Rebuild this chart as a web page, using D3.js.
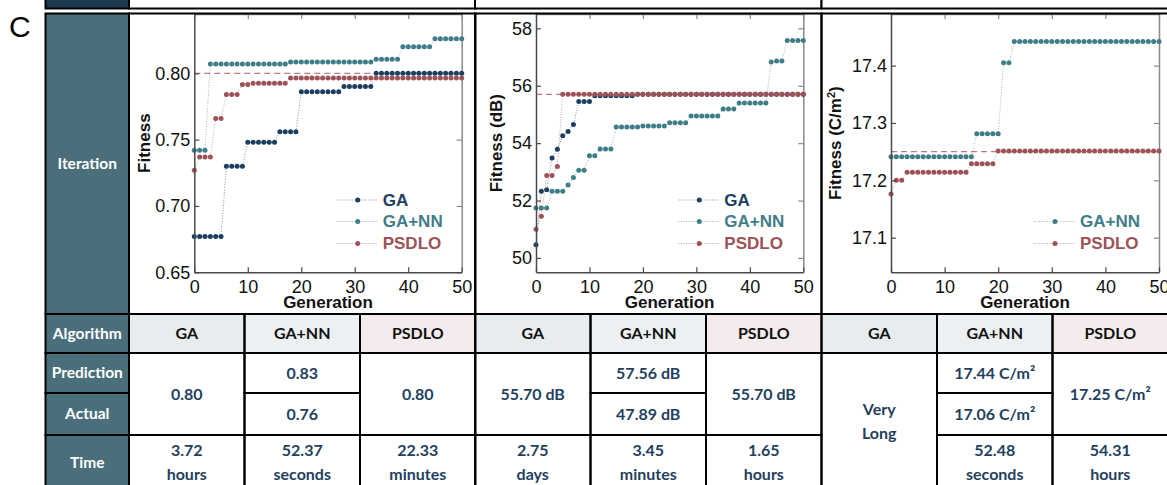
<!DOCTYPE html>
<html>
<head>
<meta charset="utf-8">
<script src="https://cdn.jsdelivr.net/npm/d3@7"></script>
<style>
  html, body { margin: 0; padding: 0; background: #fff; }
  svg { display: block; }
</style>
</head>
<body>
<svg id="chart" width="1167" height="485"></svg>
<script>
// ---- Data ----
// Panel 1: fitness, generations 0..50
const gaFit1 = [0.677, 0.677, 0.677, 0.677, 0.677, 0.677, 0.730, 0.730, 0.730, 0.730,
  0.748, 0.748, 0.748, 0.748, 0.748, 0.748, 0.756, 0.756, 0.756, 0.756,
  0.786, 0.786, 0.786, 0.786, 0.786, 0.786, 0.786, 0.786, 0.790, 0.790,
  0.790, 0.790, 0.790, 0.790, 0.800, 0.800, 0.800, 0.800, 0.800, 0.800,
  0.800, 0.800, 0.800, 0.800, 0.800, 0.800, 0.800, 0.800, 0.800, 0.800, 0.800];
const gannFit1 = [0.742, 0.742, 0.742, 0.807, 0.807, 0.807, 0.807, 0.807, 0.807, 0.807,
  0.807, 0.807, 0.807, 0.807, 0.807, 0.807, 0.807, 0.807, 0.8085, 0.8085,
  0.8085, 0.8085, 0.8085, 0.8085, 0.8085, 0.8085, 0.8085, 0.8085, 0.8085, 0.8085,
  0.8085, 0.8085, 0.8085, 0.8085, 0.8105, 0.8105, 0.8105, 0.8105, 0.8105, 0.820,
  0.820, 0.820, 0.820, 0.820, 0.820, 0.826, 0.826, 0.826, 0.826, 0.826, 0.826];
const psdloFit1 = [0.727, 0.737, 0.737, 0.737, 0.766, 0.766, 0.784, 0.784, 0.784, 0.7915,
  0.7915, 0.7925, 0.7925, 0.7925, 0.7925, 0.7925, 0.7925, 0.7925, 0.7965, 0.7965,
  0.7965, 0.7965, 0.7965, 0.7965, 0.7965, 0.7965, 0.7965, 0.7965, 0.7965, 0.7965,
  0.7965, 0.7965, 0.7965, 0.7965, 0.7965, 0.7965, 0.7965, 0.7965, 0.7965, 0.7965,
  0.7965, 0.7965, 0.7965, 0.7965, 0.7965, 0.7965, 0.7965, 0.7965, 0.7965, 0.7965, 0.7965];

// Panel 2: fitness (dB)
const gaFit2 = [50.46, 52.32, 52.38, 53.48, 53.79, 54.26, 54.41, 54.65, 55.45, 55.45,
  55.45, 55.65, 55.65, 55.65, 55.65, 55.65, 55.65, 55.65, 55.65, 55.70,
  55.70, 55.70, 55.70, 55.70, 55.70, 55.70, 55.70, 55.70, 55.70, 55.70,
  55.70, 55.70, 55.70, 55.70, 55.70, 55.70, 55.70, 55.70, 55.70, 55.70,
  55.70, 55.70, 55.70, 55.70, 55.70, 55.70, 55.70, 55.70, 55.70, 55.70, 55.70];
const gannFit2 = [51.74, 51.74, 51.74, 52.32, 52.32, 52.32, 52.54, 52.80, 53.06, 53.06,
  53.56, 53.56, 53.80, 53.80, 53.80, 54.56, 54.56, 54.56, 54.56, 54.56,
  54.60, 54.60, 54.60, 54.60, 54.60, 54.71, 54.71, 54.71, 54.71, 54.95,
  54.95, 54.95, 54.95, 54.95, 54.95, 55.19, 55.19, 55.19, 55.40, 55.40,
  55.40, 55.40, 55.40, 55.40, 56.83, 56.86, 56.86, 57.58, 57.58, 57.58, 57.58];
const psdloFit2 = [51.00, 51.45, 52.87, 52.87, 53.19, 55.70, 55.70, 55.70, 55.70, 55.70,
  55.70, 55.70, 55.70, 55.70, 55.70, 55.70, 55.70, 55.70, 55.70, 55.70,
  55.70, 55.70, 55.70, 55.70, 55.70, 55.70, 55.70, 55.70, 55.70, 55.70,
  55.70, 55.70, 55.70, 55.70, 55.70, 55.70, 55.70, 55.70, 55.70, 55.70,
  55.70, 55.70, 55.70, 55.70, 55.70, 55.70, 55.70, 55.70, 55.70, 55.70, 55.70];

// Panel 3: fitness (C/m2), GA not plotted
const gannFit3 = [17.241, 17.241, 17.241, 17.241, 17.241, 17.241, 17.241, 17.241, 17.241, 17.241,
  17.241, 17.241, 17.241, 17.241, 17.241, 17.241, 17.281, 17.281, 17.281, 17.281,
  17.281, 17.405, 17.405, 17.442, 17.442, 17.442, 17.442, 17.442, 17.442, 17.442,
  17.442, 17.442, 17.442, 17.442, 17.442, 17.442, 17.442, 17.442, 17.442, 17.442,
  17.442, 17.442, 17.442, 17.442, 17.442, 17.442, 17.442, 17.442, 17.442, 17.442, 17.442];
const psdloFit3 = [17.176, 17.200, 17.200, 17.214, 17.214, 17.214, 17.214, 17.214, 17.214, 17.214,
  17.214, 17.214, 17.214, 17.214, 17.214, 17.229, 17.229, 17.229, 17.229, 17.229,
  17.251, 17.251, 17.251, 17.251, 17.251, 17.251, 17.251, 17.251, 17.251, 17.251,
  17.251, 17.251, 17.251, 17.251, 17.251, 17.251, 17.251, 17.251, 17.251, 17.251,
  17.251, 17.251, 17.251, 17.251, 17.251, 17.251, 17.251, 17.251, 17.251, 17.251, 17.251];

const xTicks = [0, 10, 20, 30, 40, 50];
const yTicks1 = [0.65, 0.70, 0.75, 0.80];
const yTicks2 = [50, 52, 54, 56, 58];
const yTicks3 = [17.1, 17.2, 17.3, 17.4];
const refValues = [0.80, 55.70, 17.25];

const algorithms = ['GA', 'GA+NN', 'PSDLO'];
const rowLabels = ['Iteration', 'Algorithm', 'Prediction', 'Actual', 'Time'];

// table body cells per panel: col, first row, last row, lines of text
const cells1 = [
  { col: 0, r0: 2, r1: 3, text: ['0.80'] },
  { col: 1, r0: 2, r1: 2, text: ['0.83'] },
  { col: 1, r0: 3, r1: 3, text: ['0.76'] },
  { col: 2, r0: 2, r1: 3, text: ['0.80'] },
  { col: 0, r0: 4, r1: 4, text: ['3.72', 'hours'] },
  { col: 1, r0: 4, r1: 4, text: ['52.37', 'seconds'] },
  { col: 2, r0: 4, r1: 4, text: ['22.33', 'minutes'] }
];
const cells2 = [
  { col: 0, r0: 2, r1: 3, text: ['55.70 dB'] },
  { col: 1, r0: 2, r1: 2, text: ['57.56 dB'] },
  { col: 1, r0: 3, r1: 3, text: ['47.89 dB'] },
  { col: 2, r0: 2, r1: 3, text: ['55.70 dB'] },
  { col: 0, r0: 4, r1: 4, text: ['2.75', 'days'] },
  { col: 1, r0: 4, r1: 4, text: ['3.45', 'minutes'] },
  { col: 2, r0: 4, r1: 4, text: ['1.65', 'hours'] }
];
const cells3 = [
  { col: 0, r0: 2, r1: 4, text: ['Very', 'Long'] },
  { col: 1, r0: 2, r1: 2, text: ['17.44 C/m²'] },
  { col: 1, r0: 3, r1: 3, text: ['17.06 C/m²'] },
  { col: 2, r0: 2, r1: 3, text: ['17.25 C/m²'] },
  { col: 1, r0: 4, r1: 4, text: ['52.48', 'seconds'] },
  { col: 2, r0: 4, r1: 4, text: ['54.31', 'hours'] }
];

// ---- Style / layout ----
const colors = { GA: '#1c3f60', 'GA+NN': '#3f7d88', PSDLO: '#9c5257' };
const headerFill = { GA: '#e7ecef', 'GA+NN': '#ecf0f3', PSDLO: '#f4ecec' };
const sideFill = '#4a6f7b';
const valueColor = '#243f5e';
const chartFont = '"Liberation Sans", Arial, sans-serif';
const tableFont = 'Lato, "Open Sans", sans-serif';

const rowEdges = [13.5, 314, 353, 393, 435, 490];
const sideLeft = 45.5, sideRight = 129;
const panelLefts = [129, 475, 821.5];
const panelW = 346.5;
const plotTop = 14, plotBottom = 272.3;

const svg = d3.select('#chart');

// Top strip (remnant of the previous block)
svg.append('rect').attr('x', sideLeft).attr('y', -10).attr('width', sideRight - sideLeft).attr('height', 18.5)
  .attr('fill', '#1e3a52').attr('stroke', '#000').attr('stroke-width', 2);
panelLefts.forEach(px => {
  svg.append('rect').attr('x', px).attr('y', -10).attr('width', panelW).attr('height', 18.5)
    .attr('fill', '#fff').attr('stroke', '#000').attr('stroke-width', 2);
});

// Panel label
svg.append('text').attr('x', 9).attr('y', 36.5).text('C')
  .attr('font-family', chartFont).attr('font-size', 30).attr('fill', '#000');

const cellLayer = svg.append('g');
const plotLayer = svg.append('g');
const borderLayer = svg.append('g');
const textLayer = svg.append('g');

function addCell(x0, x1, y0, y1, fill) {
  cellLayer.append('rect').attr('x', x0).attr('y', y0).attr('width', x1 - x0).attr('height', y1 - y0).attr('fill', fill);
  borderLayer.append('rect').attr('x', x0).attr('y', y0).attr('width', x1 - x0).attr('height', y1 - y0)
    .attr('fill', 'none').attr('stroke', '#000').attr('stroke-width', 2);
}

function addText(cx, cy, lines, opts) {
  const lh = 24;
  lines.forEach((t, i) => {
    textLayer.append('text')
      .attr('x', cx)
      .attr('y', cy + (i - (lines.length - 1) / 2) * lh)
      .attr('dy', '0.35em')
      .attr('text-anchor', 'middle')
      .attr('font-family', tableFont)
      .attr('font-weight', 700)
      .attr('font-size', opts.size)
      .attr('fill', opts.color)
      .text(t);
  });
}

// Side column
rowLabels.forEach((lab, r) => {
  addCell(sideLeft, sideRight, rowEdges[r], rowEdges[r + 1], sideFill);
  addText((sideLeft + sideRight) / 2, (rowEdges[r] + rowEdges[r + 1]) / 2, [lab], { size: 15.5, color: '#fff' });
});

// Table per panel
const panelCells = [cells1, cells2, cells3];
panelLefts.forEach((px, p) => {
  const colW = panelW / 3;
  addCell(px, px + panelW, rowEdges[0], rowEdges[1], '#fff');
  algorithms.forEach((a, c) => {
    const x0 = px + c * colW;
    addCell(x0, x0 + colW, rowEdges[1], rowEdges[2], headerFill[a]);
    addText(x0 + colW / 2, (rowEdges[1] + rowEdges[2]) / 2, [a], { size: 16, color: '#111' });
  });
  panelCells[p].forEach(cell => {
    const x0 = px + cell.col * colW;
    const y0 = rowEdges[cell.r0], y1 = rowEdges[cell.r1 + 1];
    addCell(x0, x0 + colW, y0, y1, '#fff');
    addText(x0 + colW / 2, (y0 + y1) / 2, cell.text, { size: 16, color: valueColor });
  });
});

// ---- Plots ----
const plots = [
  {
    left: 194.3, right: 461.7, yDomain: [0.65, 0.8447], yTicks: yTicks1, fmt: d3.format('.2f'),
    ref: refValues[0], labelX: 144.5, label: 'Fitness',
    series: [['GA', gaFit1], ['GA+NN', gannFit1], ['PSDLO', psdloFit1]], legendRows: [0, 1, 2]
  },
  {
    left: 536, right: 803.3, yDomain: [49.5, 58.5], yTicks: yTicks2, fmt: d3.format('d'),
    ref: refValues[1], labelX: 495.7, label: 'Fitness (dB)',
    series: [['GA', gaFit2], ['GA+NN', gannFit2], ['PSDLO', psdloFit2]], legendRows: [0, 1, 2]
  },
  {
    left: 891, right: 1159, yDomain: [17.0396, 17.49], yTicks: yTicks3, fmt: d3.format('.1f'),
    ref: refValues[2], labelX: 835, label: 'Fitness (C/m', sup: '2',
    series: [['GA+NN', gannFit3], ['PSDLO', psdloFit3]], legendRows: [1, 2]
  }
];

function styleAxis(g, color) {
  g.attr('color', color).attr('font-family', chartFont).attr('font-size', 18);
  g.select('.domain').attr('stroke-width', 1.5);
  g.selectAll('.tick line').attr('stroke-width', 1.2);
  g.selectAll('.tick text').attr('fill', '#111');
}

plots.forEach(cfg => {
  const x = d3.scaleLinear().domain([0, 50]).range([cfg.left, cfg.right]);
  const y = d3.scaleLinear().domain(cfg.yDomain).range([plotBottom, plotTop]);
  const g = plotLayer.append('g');

  // frame: right / top (light), then left / bottom with labels
  g.append('g').attr('transform', `translate(${cfg.right},0)`)
    .call(d3.axisRight(y).tickValues(cfg.yTicks).tickSizeInner(-5).tickSizeOuter(0).tickFormat(''))
    .call(a => styleAxis(a, '#8a8a8a'));
  g.append('g').attr('transform', `translate(0,${plotTop})`)
    .call(d3.axisTop(x).tickValues(xTicks).tickSizeInner(-5).tickSizeOuter(0).tickFormat(''))
    .call(a => styleAxis(a, '#8a8a8a'));

  // reference line
  g.append('line')
    .attr('x1', x(0)).attr('x2', x(50)).attr('y1', y(cfg.ref)).attr('y2', y(cfg.ref))
    .attr('stroke', '#c27c80').attr('stroke-width', 1.2).attr('stroke-dasharray', '6,4');

  const line = d3.line().x((d, i) => x(i)).y(d => y(d));
  cfg.series.forEach(([name, vals]) => {
    g.append('path').datum(vals).attr('d', line)
      .attr('fill', 'none').attr('stroke', colors[name]).attr('stroke-width', 1)
      .attr('stroke-dasharray', '1,1.6').attr('opacity', 0.55);
    g.append('g').selectAll('circle').data(vals).join('circle')
      .attr('cx', (d, i) => x(i)).attr('cy', d => y(d)).attr('r', 2.5)
      .attr('fill', colors[name]);
  });

  g.append('g').attr('transform', `translate(${cfg.left},0)`)
    .call(d3.axisLeft(y).tickValues(cfg.yTicks).tickSizeInner(-5).tickSizeOuter(0).tickPadding(4).tickFormat(cfg.fmt))
    .call(a => styleAxis(a, '#4a4a4a'));
  g.append('g').attr('transform', `translate(0,${plotBottom})`)
    .call(d3.axisBottom(x).tickValues(xTicks).tickSizeInner(-5).tickSizeOuter(0).tickPadding(8))
    .call(a => styleAxis(a, '#4a4a4a'));

  // axis titles
  g.append('text')
    .attr('x', (cfg.left + cfg.right) / 2).attr('y', 308)
    .attr('text-anchor', 'middle').attr('font-family', chartFont).attr('font-weight', 700)
    .attr('font-size', 17).attr('fill', '#111').text('Generation');
  const yl = g.append('text')
    .attr('transform', `translate(${cfg.labelX},${(plotTop + plotBottom) / 2}) rotate(-90)`)
    .attr('dy', '0.35em').attr('text-anchor', 'middle').attr('font-family', chartFont)
    .attr('font-weight', 700).attr('font-size', 17).attr('fill', '#111');
  yl.append('tspan').text(cfg.label);
  if (cfg.sup) {
    yl.append('tspan').attr('baseline-shift', 'super').attr('font-size', 11).text(cfg.sup);
    yl.append('tspan').text(')');
  }

  // legend
  const legendY = [200, 221.5, 243.5];
  const lx = cfg.right - 125;
  cfg.series.forEach(([name], k) => {
    const ly = legendY[cfg.legendRows[k]];
    g.append('line').attr('x1', lx).attr('x2', lx + 41).attr('y1', ly).attr('y2', ly)
      .attr('stroke', colors[name]).attr('stroke-width', 1).attr('stroke-dasharray', '1,1.6').attr('opacity', 0.55);
    g.append('circle').attr('cx', lx + 21).attr('cy', ly).attr('r', 2.5).attr('fill', colors[name]);
    g.append('text').attr('x', lx + 46).attr('y', ly).attr('dy', '0.35em')
      .attr('font-family', chartFont).attr('font-weight', 700).attr('font-size', 17)
      .attr('fill', colors[name]).text(name);
  });
});
</script>
</body>
</html>
